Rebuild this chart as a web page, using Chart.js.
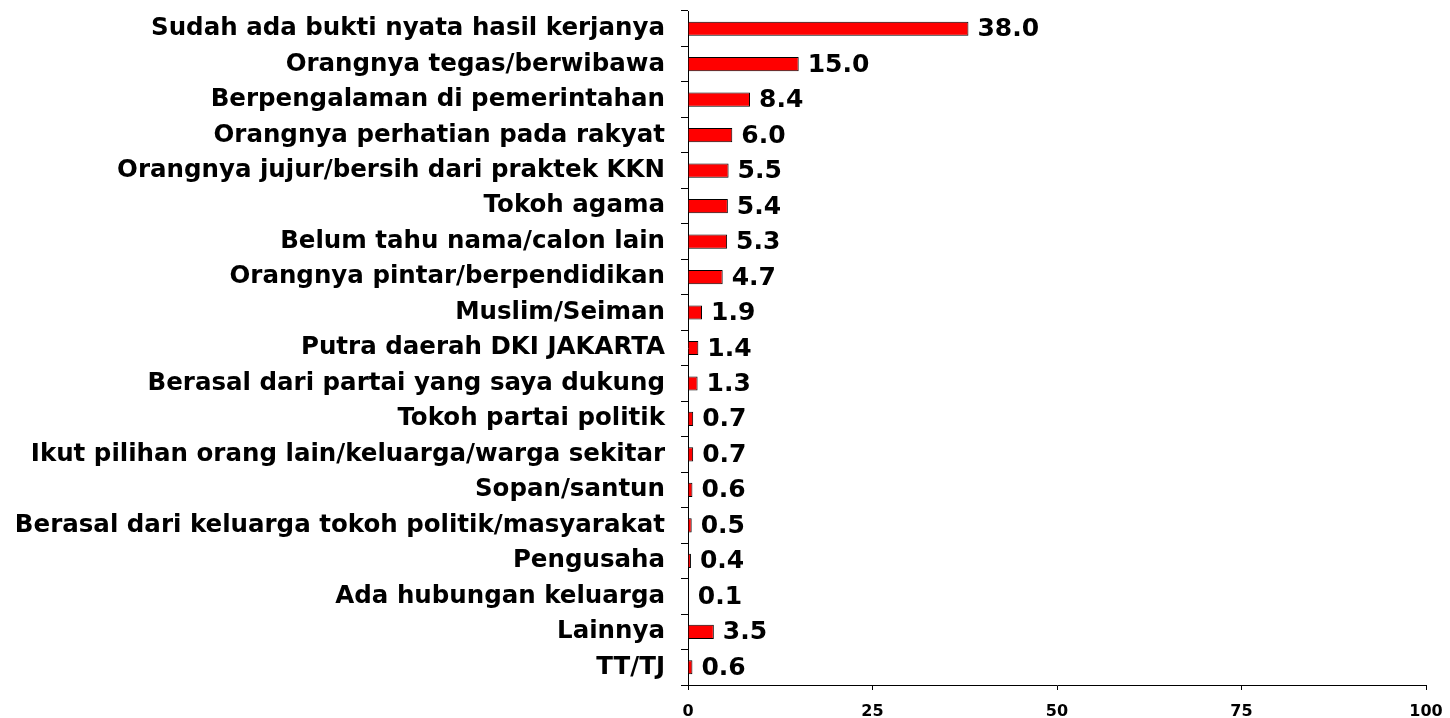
<!DOCTYPE html>
<html>
<head>
<meta charset="utf-8">
<script src="https://cdn.jsdelivr.net/npm/chart.js@4/dist/chart.umd.min.js"></script>
<style>
  body { margin: 0; background: #fff; }
  #wrap { width: 1450px; height: 718px; position: relative; }
</style>
</head>
<body>
<div id="wrap"><canvas id="chart"></canvas></div>
<script>
const categories = [
    'Sudah ada bukti nyata hasil kerjanya',
    'Orangnya tegas/berwibawa',
    'Berpengalaman di pemerintahan',
    'Orangnya perhatian pada rakyat',
    'Orangnya jujur/bersih dari praktek KKN',
    'Tokoh agama',
    'Belum tahu nama/calon lain',
    'Orangnya pintar/berpendidikan',
    'Muslim/Seiman',
    'Putra daerah DKI JAKARTA',
    'Berasal dari partai yang saya dukung',
    'Tokoh partai politik',
    'Ikut pilihan orang lain/keluarga/warga sekitar',
    'Sopan/santun',
    'Berasal dari keluarga tokoh politik/masyarakat',
    'Pengusaha',
    'Ada hubungan keluarga',
    'Lainnya',
    'TT/TJ'
];
const values = [38.0, 15.0, 8.4, 6.0, 5.5, 5.4, 5.3, 4.7, 1.9, 1.4, 1.3, 0.7, 0.7, 0.6, 0.5, 0.4, 0.1, 3.5, 0.6];
const xTicks = [0, 25, 50, 75, 100];

// draws the numbers at the end of each bar
const valueLabels = {
    id: 'valueLabels',
    afterDatasetsDraw(chart) {
        const ctx = chart.ctx;
        const meta = chart.getDatasetMeta(0);
        ctx.save();
        ctx.font = 'bold 25px "DejaVu Sans"';
        ctx.fillStyle = '#000';
        ctx.textAlign = 'left';
        ctx.textBaseline = 'middle';
        meta.data.forEach((bar, i) => {
            ctx.fillText(values[i].toFixed(1), bar.x + 9, bar.y + 1);
        });
        ctx.restore();
    }
};

new Chart(document.getElementById('chart'), {
    type: 'bar',
    data: {
        labels: categories,
        datasets: [{
            data: values,
            backgroundColor: '#ff0000',
            borderColor: '#000',
            borderWidth: 1,
            barPercentage: 0.4,
            categoryPercentage: 1.0
        }]
    },
    options: {
        indexAxis: 'y',
        responsive: true,
        maintainAspectRatio: false,
        animation: false,
        layout: { padding: { top: 11, right: 24, left: 0, bottom: 0 } },
        plugins: {
            legend: { display: false },
            tooltip: { enabled: false }
        },
        scales: {
            x: {
                min: 0,
                max: 100,
                afterBuildTicks: (axis) => { axis.ticks = xTicks.map(v => ({ value: v })); },
                afterFit: (axis) => {
                    axis.height = 33;
                    axis.paddingLeft = 0;
                    axis.paddingRight = 0;
                },
                grid: { drawOnChartArea: false, drawTicks: true, tickLength: 5, color: '#000' },
                border: { display: true, color: '#000', width: 1 },
                ticks: {
                    color: '#000',
                    padding: 12,
                    maxRotation: 0,
                    font: { family: '"DejaVu Sans"', weight: 'bold', size: 16 }
                }
            },
            y: {
                afterFit: (axis) => {
                    axis.width = 688;
                    axis.paddingTop = 0;
                    axis.paddingBottom = 0;
                },
                grid: { offset: true, drawOnChartArea: false, drawTicks: true, tickLength: 7, color: '#000' },
                border: { display: true, color: '#000', width: 1 },
                ticks: {
                    color: '#000',
                    padding: 16,
                    autoSkip: false,
                    font: { family: '"DejaVu Sans"', weight: 'bold', size: 24.5 }
                }
            }
        }
    },
    plugins: [valueLabels]
});
</script>
</body>
</html>
